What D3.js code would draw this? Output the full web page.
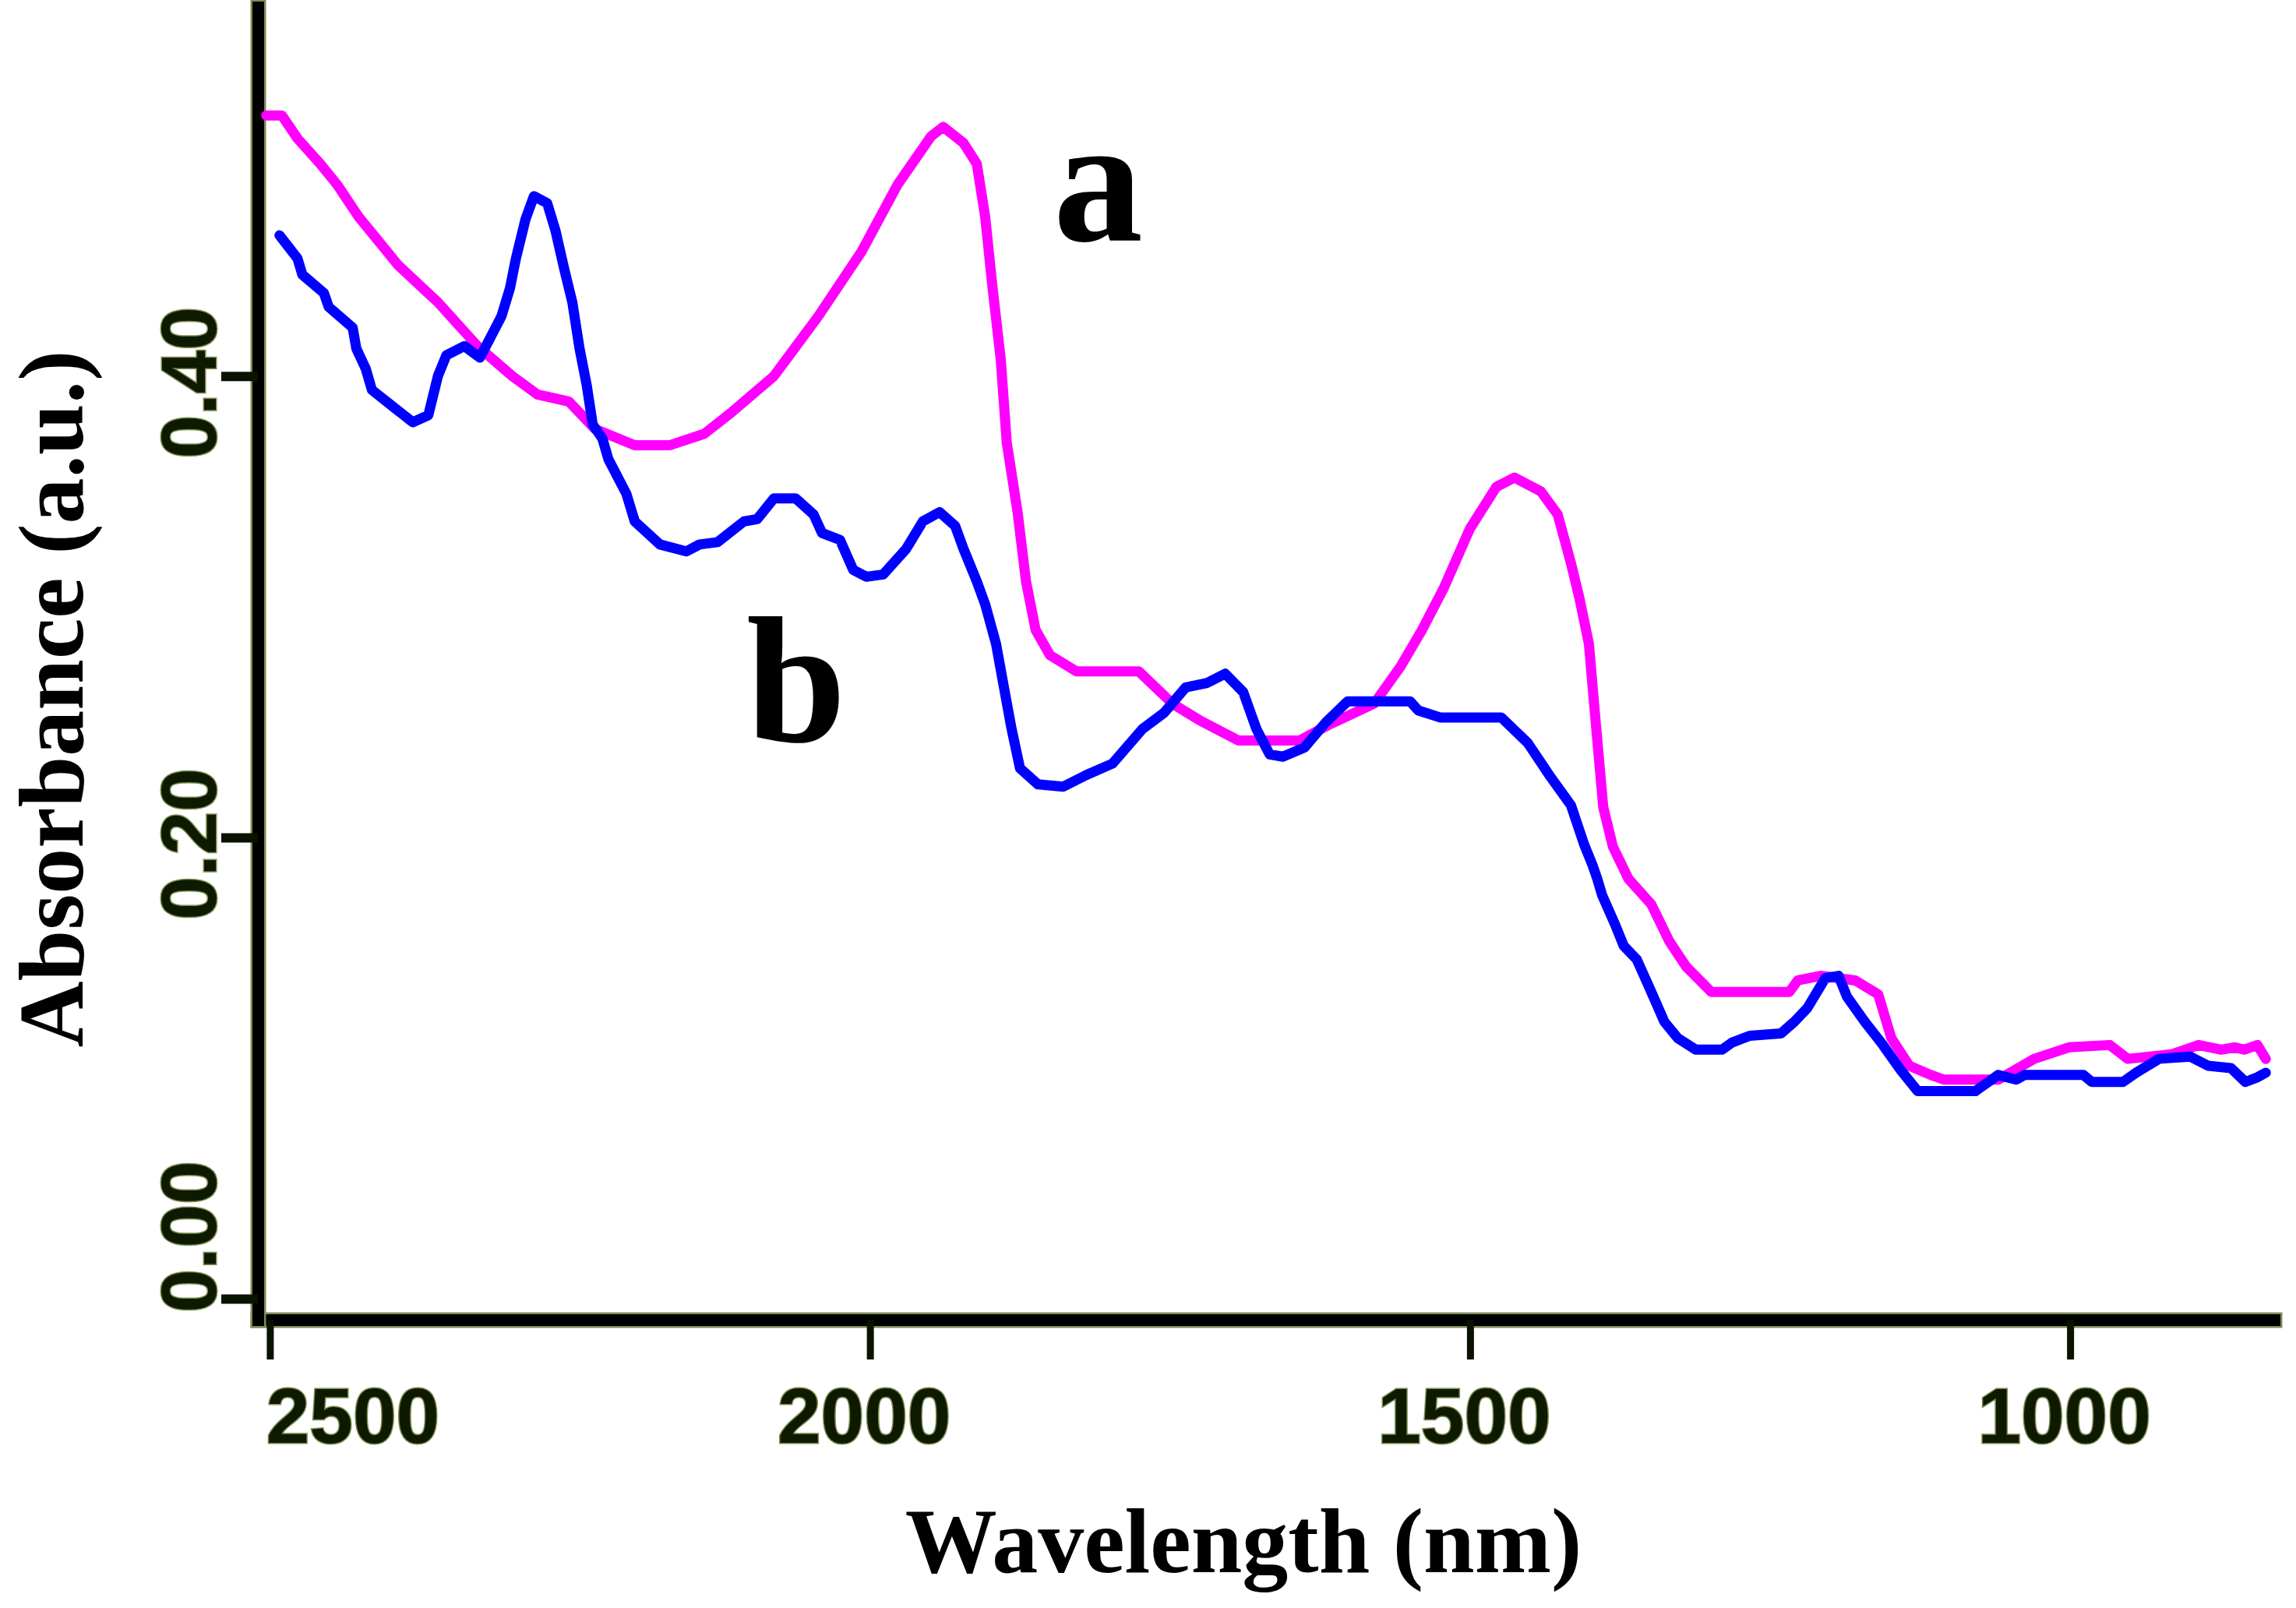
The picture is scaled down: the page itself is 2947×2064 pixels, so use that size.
<!DOCTYPE html>
<html lang="en">

<head>
  <meta charset="UTF-8">
  <title>NIR Absorbance Spectra</title>
  <script src="https://d3js.org/d3.v7.min.js"></script>
  <style>
    body { margin: 0; background: #fff; }
  </style>
</head>

<body>
  <div id="chart"></div>

  <script>
    // spectrum a (magenta)
    const wavelengthA = [2503, 2490, 2477, 2458, 2444, 2426, 2393, 2360, 2327, 2298, 2277, 2251, 2229, 2196, 2167,
      2138, 2116, 2080, 2043, 2007, 1977, 1949, 1939, 1922, 1911, 1904, 1898, 1891, 1886, 1877, 1870, 1862, 1850,
      1828, 1776, 1748, 1726, 1693, 1642, 1617, 1580, 1558, 1540, 1522, 1500, 1478, 1463, 1441, 1427, 1416, 1409,
      1401, 1396, 1389, 1381, 1368, 1349, 1334, 1320, 1299, 1234, 1227, 1208, 1179, 1160, 1149, 1134, 1116,
      1105, 1060, 1030, 1001, 967, 952, 915, 893, 874, 863, 855, 844, 837];
    const absorbanceA = [0.513, 0.513, 0.503, 0.492, 0.483, 0.469, 0.448, 0.432, 0.413, 0.400, 0.392, 0.389, 0.377,
      0.370, 0.370, 0.375, 0.384, 0.400, 0.426, 0.454, 0.483, 0.504, 0.508, 0.501, 0.492, 0.469, 0.439, 0.407,
      0.371, 0.341, 0.311, 0.290, 0.279, 0.272, 0.272, 0.258, 0.251, 0.242, 0.242, 0.249, 0.258, 0.274, 0.290,
      0.308, 0.334, 0.352, 0.356, 0.350, 0.340, 0.319, 0.304, 0.284, 0.254, 0.213, 0.196, 0.182, 0.171,
      0.155, 0.144, 0.133, 0.133, 0.138, 0.140, 0.138, 0.132, 0.113, 0.101, 0.097, 0.095, 0.095, 0.104, 0.109,
      0.110, 0.104, 0.106, 0.110, 0.108, 0.109, 0.108, 0.110, 0.104];

    // spectrum b (blue)
    const wavelengthB = [2492, 2477, 2473, 2455, 2451, 2431, 2428, 2420, 2415, 2381, 2368, 2360, 2353, 2338, 2325,
      2316, 2307, 2300, 2295, 2287, 2280, 2269, 2262, 2255, 2248, 2242, 2236, 2231, 2223, 2218, 2203, 2196, 2175,
      2153, 2142, 2127, 2105, 2094, 2080, 2062, 2047, 2040, 2025, 2014, 2003, 1989, 1970, 1956, 1942, 1929, 1922,
      1911, 1904, 1895, 1888, 1882, 1875, 1860, 1839, 1820, 1798, 1773, 1755, 1737, 1719, 1704, 1689, 1678, 1667,
      1656, 1638, 1620, 1602, 1550, 1543, 1525, 1474, 1452, 1434, 1416, 1405, 1398, 1394, 1390, 1379, 1372, 1361,
      1349, 1338, 1327, 1312, 1290, 1282, 1267, 1241, 1230, 1219, 1204, 1193, 1186, 1171, 1156, 1141, 1127, 1079,
      1060, 1045, 1038, 989, 982, 956, 945, 926, 900, 885, 866, 854, 844, 837];
    const absorbanceB = [0.461, 0.451, 0.444, 0.436, 0.430, 0.421, 0.412, 0.403, 0.394, 0.380, 0.383, 0.400, 0.409,
      0.413, 0.408, 0.417, 0.426, 0.438, 0.451, 0.468, 0.478, 0.475, 0.463, 0.447, 0.432, 0.412, 0.396, 0.379,
      0.373, 0.364, 0.349, 0.337, 0.327, 0.324, 0.327, 0.328, 0.337, 0.338, 0.347, 0.347, 0.340, 0.332, 0.329,
      0.316, 0.313, 0.314, 0.325, 0.337, 0.341, 0.335, 0.325, 0.311, 0.301, 0.284, 0.264, 0.247, 0.230, 0.223,
      0.222, 0.227, 0.232, 0.247, 0.254, 0.265, 0.267, 0.271, 0.263, 0.247, 0.236, 0.235, 0.239, 0.250, 0.259,
      0.259, 0.255, 0.252, 0.252, 0.241, 0.227, 0.214, 0.197, 0.188, 0.182, 0.175, 0.162, 0.153, 0.147, 0.133,
      0.120, 0.113, 0.108, 0.108, 0.111, 0.114, 0.115, 0.120, 0.126, 0.139, 0.140, 0.131, 0.120, 0.110, 0.099,
      0.090, 0.090, 0.097, 0.095, 0.097, 0.097, 0.094, 0.094, 0.098, 0.104, 0.105, 0.101, 0.100, 0.094, 0.096,
      0.098];

    const xTicks = [2500, 2000, 1500, 1000];
    const yTicks = [0.00, 0.20, 0.40];
    const seriesNames = ["a", "b"];

    const W = 2947, H = 2064;
    const svg = d3.select("#chart").append("svg")
      .attr("width", W)
      .attr("height", H)
      .style("background", "#fff");

    //scales (wavelength axis runs right to left)
    const xScale = d3.scaleLinear().domain([2510, 830]).range([331, 2919]);
    const yScale = d3.scaleLinear().domain([-0.0091, 0.56]).range([1694, 9]);

    const olive = "#7d8c52";
    const tickFill = "#0e1a00";

    //x axis
    const xAxis = svg.append("g")
      .attr("transform", "translate(0,1694)")
      .call(d3.axisBottom(xScale).tickValues(xTicks).tickSize(51).tickSizeOuter(0).tickPadding(36).tickFormat(d3.format("d")));

    //y axis
    const yAxis = svg.append("g")
      .attr("transform", "translate(331,0)")
      .call(d3.axisLeft(yScale).tickValues(yTicks).tickSize(47).tickSizeOuter(0).tickFormat(d3.format(".2f")));

    // thick axis lines with an olive rim
    [xAxis, yAxis].forEach(ax => {
      const dom = ax.select(".domain");
      ax.insert("path", ".domain")
        .attr("d", dom.attr("d"))
        .attr("fill", "none")
        .attr("stroke", olive)
        .attr("stroke-width", 20)
        .attr("stroke-linecap", "square");
      dom.attr("stroke", "#000").attr("stroke-width", 15).attr("stroke-linecap", "square");
    });

    xAxis.selectAll(".tick line").attr("stroke", "#0a1200").attr("stroke-width", 9);
    yAxis.selectAll(".tick line").attr("stroke", "#0a1200").attr("stroke-width", 12);

    xAxis.selectAll(".tick text")
      .attr("font-family", "'Liberation Sans', Arial, sans-serif")
      .attr("font-weight", "bold")
      .attr("font-size", 100)
      .attr("fill", tickFill)
      .attr("stroke", olive)
      .attr("stroke-width", 3)
      .attr("paint-order", "stroke")
      .attr("dx", d => d === 2500 ? 106 : -8);

    //rotated y tick labels
    yAxis.selectAll(".tick text")
      .attr("font-family", "'Liberation Sans', Arial, sans-serif")
      .attr("font-weight", "bold")
      .attr("font-size", 100)
      .attr("fill", tickFill)
      .attr("stroke", olive)
      .attr("stroke-width", 3)
      .attr("paint-order", "stroke")
      .attr("text-anchor", "middle")
      .attr("dy", null)
      .attr("transform", "rotate(-90)")
      .attr("x", d => d === 0 ? 80 : -8)
      .attr("y", -54);

    //spectra
    const spectra = [
      { name: "a", color: "#ff00ff", pts: wavelengthA.map((w, i) => [w, absorbanceA[i]]) },
      { name: "b", color: "#0000ff", pts: wavelengthB.map((w, i) => [w, absorbanceB[i]]) }
    ];
    const line = d3.line().x(d => xScale(d[0])).y(d => yScale(d[1]));

    svg.selectAll(".spectrum")
      .data(spectra)
      .enter().append("path")
      .attr("class", "spectrum")
      .attr("d", d => line(d.pts))
      .attr("fill", "none")
      .attr("stroke", d => d.color)
      .attr("stroke-width", 13)
      .attr("stroke-linejoin", "round")
      .attr("stroke-linecap", "round");

    //curve letters
    const letterPos = { a: [1352, 309], b: [958, 952] };
    svg.selectAll(".series-label")
      .data(seriesNames)
      .enter().append("text")
      .attr("class", "series-label")
      .attr("x", d => letterPos[d][0])
      .attr("y", d => letterPos[d][1])
      .attr("font-family", "'Liberation Serif', 'Times New Roman', serif")
      .attr("font-weight", "bold")
      .attr("font-size", 230)
      .attr("fill", "#000")
      .text(d => d);

    //axes labels
    svg.append("text")
      .attr("x", 1596)
      .attr("y", 2018)
      .attr("text-anchor", "middle")
      .attr("font-family", "'Liberation Serif', 'Times New Roman', serif")
      .attr("font-weight", "bold")
      .attr("font-size", 118)
      .attr("fill", "#000")
      .text("Wavelength (nm)");
    svg.append("text")
      .attr("transform", "translate(106, 897) rotate(-90)")
      .attr("text-anchor", "middle")
      .attr("font-family", "'Liberation Serif', 'Times New Roman', serif")
      .attr("font-weight", "bold")
      .attr("font-size", 118)
      .attr("fill", "#000")
      .text("Absorbance (a.u.)");
  </script>
</body>

</html>
